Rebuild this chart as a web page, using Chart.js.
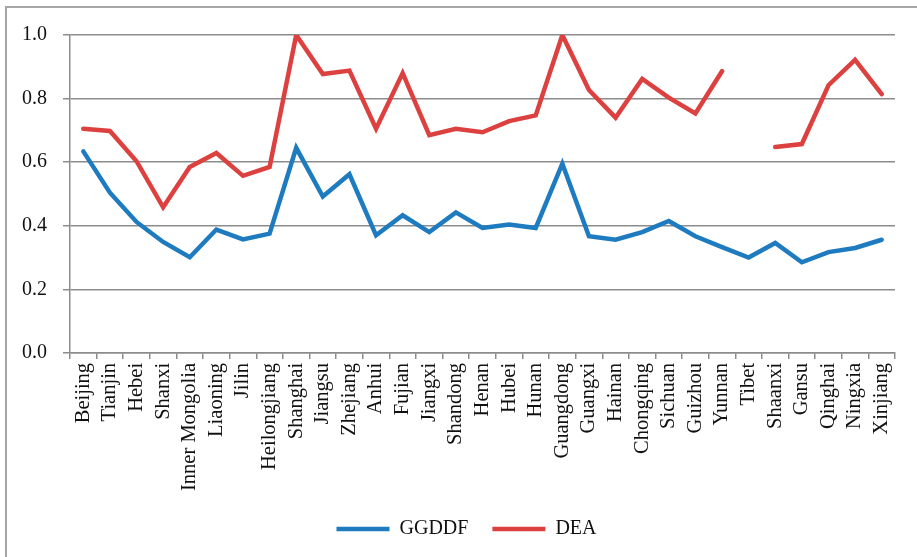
<!DOCTYPE html>
<html>
<head>
<meta charset="utf-8">
<script src="https://cdn.jsdelivr.net/npm/chart.js@4"></script>
<style>
  html, body { margin: 0; padding: 0; background: #fff; overflow: hidden; }
  #frame { position: absolute; left: 5px; top: 6px; width: 1000px; height: 1000px; border: 2px solid #a6a6a6; }
  #wrap { position: absolute; left: 0; top: 0; width: 917px; height: 557px; }
</style>
</head>
<body>
<div id="frame"></div>
<div id="wrap"><canvas id="chart"></canvas></div>
<script>
const provinces = ['Beijing', 'Tianjin', 'Hebei', 'Shanxi', 'Inner Mongolia', 'Liaoning', 'Jilin', 'Heilongjiang',
  'Shanghai', 'Jiangsu', 'Zhejiang', 'Anhui', 'Fujian', 'Jiangxi', 'Shandong', 'Henan', 'Hubei', 'Hunan',
  'Guangdong', 'Guangxi', 'Hainan', 'Chongqing', 'Sichuan', 'Guizhou', 'Yunnan', 'Tibet', 'Shaanxi', 'Gansu',
  'Qinghai', 'Ningxia', 'Xinjiang'];

const ggddf = [0.634, 0.504, 0.412, 0.349, 0.301, 0.388, 0.357, 0.375, 0.645, 0.492, 0.562, 0.370, 0.433, 0.380,
  0.442, 0.393, 0.404, 0.393, 0.595, 0.367, 0.356, 0.380, 0.415, 0.367, 0.333, 0.300, 0.346, 0.285, 0.317, 0.330, 0.356];

// Tibet has no DEA value
const dea = [0.705, 0.698, 0.603, 0.458, 0.585, 0.629, 0.557, 0.585, 1.0, 0.877, 0.888, 0.705, 0.880, 0.685,
  0.705, 0.694, 0.729, 0.747, 1.0, 0.827, 0.740, 0.862, 0.803, 0.753, 0.886, null, 0.648, 0.657, 0.842, 0.922, 0.814];

const yTicks = [0, 0.2, 0.4, 0.6, 0.8, 1.0];

const gridGray = '#8c8c8c';
const serif = "'Liberation Serif', 'DejaVu Serif', serif";

// the legend sits a bit right of centre in the original
const nudgeLegend = {
  id: 'nudgeLegend',
  afterLayout: chart => {
    if (chart.legend) { chart.legend.left += 16; chart.legend.right += 16; }
  }
};

new Chart(document.getElementById('chart'), {
  type: 'line',
  data: {
    labels: provinces,
    datasets: [
      { label: 'GGDDF', data: ggddf, borderColor: '#1f7bc0', backgroundColor: '#1f7bc0',
        borderWidth: 4.5, pointRadius: 0, tension: 0, borderCapStyle: 'round', borderJoinStyle: 'miter' },
      { label: 'DEA', data: dea, borderColor: '#dc4140', backgroundColor: '#dc4140',
        borderWidth: 4.5, pointRadius: 0, tension: 0, borderCapStyle: 'round', borderJoinStyle: 'miter' }
    ]
  },
  plugins: [nudgeLegend],
  options: {
    responsive: true,
    maintainAspectRatio: false,
    animation: false,
    layout: { padding: { left: 6, right: 22, top: 35, bottom: 8 } },
    plugins: {
      tooltip: { enabled: false },
      legend: {
        position: 'bottom',
        labels: {
          usePointStyle: true,
          pointStyle: 'line',
          pointStyleWidth: 53,
          boxHeight: 20,
          padding: 24,
          color: '#111',
          font: { family: serif, size: 20 }
        }
      }
    },
    scales: {
      x: {
        offset: true,
        // rotated labels fit inside their columns, no side padding needed
        afterFit: scale => { scale.paddingLeft = 0; scale.paddingRight = 0; },
        grid: { offset: true, drawOnChartArea: false, drawTicks: true, tickLength: 6, color: gridGray, lineWidth: 1.5 },
        border: { color: gridGray, width: 1.5 },
        ticks: { autoSkip: false, minRotation: 90, maxRotation: 90, padding: 4, color: '#111',
          font: { family: serif, size: 20.5 } }
      },
      y: {
        min: 0,
        max: 1,
        afterBuildTicks: axis => { axis.ticks = yTicks.map(v => ({ value: v })); },
        grid: { color: gridGray, lineWidth: 1.5, tickLength: 7 },
        border: { color: gridGray, width: 1.5 },
        ticks: { padding: 16, color: '#111', font: { family: serif, size: 20 },
          callback: v => Number(v).toFixed(1) }
      }
    }
  }
});
</script>
</body>
</html>
